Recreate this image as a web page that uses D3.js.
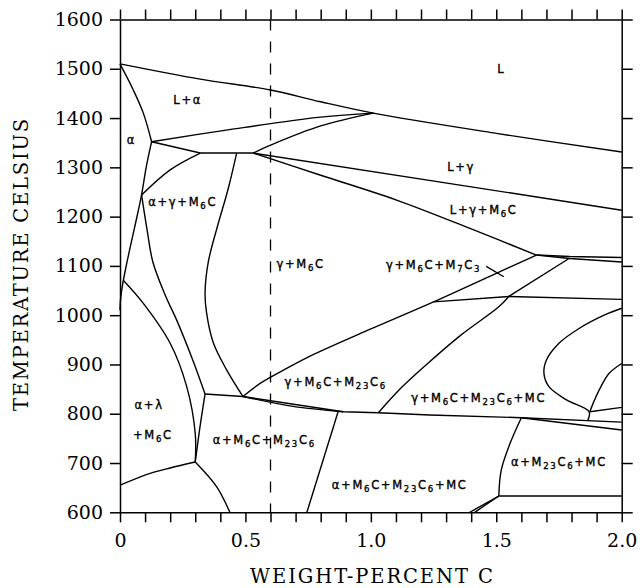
<!DOCTYPE html>
<html>
<head>
<meta charset="utf-8">
<script src="https://cdn.jsdelivr.net/npm/d3@7"></script>
<style>
body { margin: 0; background: #fff; }
svg { display: block; }
.lbl { font-family: "DejaVu Sans", sans-serif; font-size: 11.5px; letter-spacing: 1.7px; stroke: #000; stroke-width: 0.35px; }
.axis text { font-family: "DejaVu Serif", serif; font-size: 19px; fill: #000; }
.axis line, .axis path { stroke: #000; stroke-width: 1.5; }
.title { font-family: "DejaVu Serif", serif; font-size: 19.5px; }
</style>
</head>
<body>
<svg id="chart" width="640" height="588"></svg>
<script>
// phase boundaries: [weight-percent C, temperature C]
var liquidus = [[0,1510],[0.32,1479],[0.6,1457],[0.8,1433],[1.01,1410],[1.5,1369],[2.0,1331]];
var alphaSolidus = [[0,1510],[0.053,1457],[0.093,1410],[0.126,1352]];
var peritecticUpper = [[0.126,1352],[0.43,1376],[0.8,1402],[1.01,1410]];
var peritecticLower = [[0.126,1352],[0.32,1329],[0.531,1329]];
var lGammaUpper = [[0.531,1329],[0.6,1345],[0.8,1384],[1.01,1410]];
var lGammaLower = [[0.531,1329],[2.0,1213]];
var lGammaM6C = [[0.531,1329],[0.8,1284],[1.1,1234],[1.41,1173],[1.66,1122]];
var m7c3TopA = [[1.66,1122],[1.793,1119],[2.0,1117]];
var m7c3TopB = [[1.66,1122],[1.793,1115],[2.0,1108]];
var gammaM6CLower = [[0.49,835],[0.56,862],[0.65,888],[0.75,915],[1.0,972],[1.25,1027],[1.5,1085],[1.66,1122]];
var line1030 = [[1.25,1027],[1.55,1038],[2.0,1032]];
var mcBoundary = [[1.03,802],[1.12,852],[1.22,899],[1.36,960],[1.51,1017],[1.55,1038]];
var m7c3Right = [[1.55,1038],[1.79,1115]];
var mainLower = [[0.339,840],[0.49,835],[0.89,804],[1.03,802],[1.235,797.5],[1.6,792],[2.0,783]];
var mainLowerTwin = [[0.49,835],[0.69,815],[0.89,804]];
var mainLowerRight = [[1.6,792],[2.0,767]];
var loopOuter = [[2.0,1014],[1.93,1000],[1.83,973],[1.75,943],[1.70,909],[1.69,882],[1.71,855],[1.78,828],[1.87,804],[1.865,787]];
var loopInner = [[2.0,902],[1.95,882],[1.91,848],[1.886,821],[1.873,804]];
var loopRight = [[1.873,804],[2.0,813]];
var alphaBoundary = [[0.126,1352],[0.104,1299],[0.086,1244],[0.056,1173],[0.028,1108],[0.01,1061],[0.002,1031],[0,1010]];
var agmUpper = [[0.32,1329],[0.2,1295],[0.086,1244]];
var agmRight = [[0.086,1244],[0.108,1173],[0.131,1108],[0.18,1041],[0.226,990],[0.29,909],[0.339,840]];
var gammaM6CLeft = [[0.465,1329],[0.43,1254],[0.39,1183],[0.352,1108],[0.339,1045],[0.345,1005],[0.372,944],[0.425,889],[0.49,835]];
var lambdaUpper = [[0.013,1071],[0.093,1024],[0.2,943],[0.266,855],[0.3,760],[0.3,702]];
var lambdaRight = [[0.339,840],[0.319,774],[0.3,702]];
var lambdaLower = [[0,655],[0.12,679],[0.2,690],[0.3,702]];
var lambdaDown = [[0.3,702],[0.385,652],[0.438,600]];
var m23Boundary = [[0.87,805],[0.745,600]];
var mcAlphaLeft = [[1.6,792],[1.555,740],[1.52,686],[1.51,633]];
var line633 = [[1.51,633],[2.0,633]];
var wedgeA = [[1.51,633],[1.394,600]];
var wedgeB = [[1.51,633],[1.414,600]];
var leader = [[1.46,1099],[1.53,1078]];

var smoothLines = [liquidus, alphaSolidus, peritecticUpper, lGammaUpper, lGammaM6C, gammaM6CLower,
  mcBoundary, loopOuter, loopInner, alphaBoundary, agmUpper, agmRight, gammaM6CLeft,
  lambdaUpper, lambdaRight, lambdaLower, lambdaDown, mcAlphaLeft, mainLowerTwin];
var straightLines = [peritecticLower, lGammaLower, m7c3TopA, m7c3TopB, line1030, m7c3Right, mainLower,
  mainLowerRight, loopRight, m23Boundary, line633, wedgeA, wedgeB, leader];

var labelText = ["L", "L+\u03b1", "\u03b1", "L+\u03b3", "L+\u03b3+M6C", "\u03b1+\u03b3+M6C", "\u03b3+M6C",
  "\u03b3+M6C+M7C3", "\u03b3+M6C+M23C6", "\u03b3+M6C+M23C6+MC", "\u03b1+\u03bb", "+M6C",
  "\u03b1+M6C+M23C6", "\u03b1+M6C+M23C6+MC", "\u03b1+M23C6+MC"];
var labelC = [1.52, 0.27, 0.045, 1.36, 1.45, 0.25, 0.72, 1.25, 0.86, 1.43, 0.116, 0.131, 0.575, 1.115, 1.75];
var labelT = [1500, 1437, 1355, 1300, 1213, 1230, 1104, 1102, 864, 832, 818, 757, 746, 655, 702];

var yTicks = [600,700,800,900,1000,1100,1200,1300,1400,1500,1600];
var xTicks = [0,0.1,0.2,0.3,0.4,0.5,0.6,0.7,0.8,0.9,1.0,1.1,1.2,1.3,1.4,1.5,1.6,1.7,1.8,1.9,2.0];
var xTickLabels = {"0":"0", "0.5":"0.5", "1":"1.0", "1.5":"1.5", "2":"2.0"};
var dashedC = 0.6;

var svg = d3.select("#chart");
var x = d3.scaleLinear().domain([0, 2]).range([120, 621.7]);
var y = d3.scaleLinear().domain([600, 1600]).range([512.3, 19.5]);

// axes
svg.append("g").attr("class", "axis").attr("transform", "translate(120,0)")
  .call(d3.axisLeft(y).tickValues(yTicks).tickSize(10).tickSizeOuter(0).tickPadding(7).tickFormat(d3.format("d")));
svg.append("g").attr("class", "axis").attr("transform", "translate(621.7,0)")
  .call(d3.axisRight(y).tickValues(yTicks).tickSize(11).tickSizeOuter(0).tickFormat(""));
svg.append("g").attr("class", "axis").attr("transform", "translate(0,19.5)")
  .call(d3.axisTop(x).tickValues(xTicks).tickSize(10).tickSizeOuter(0).tickFormat(""));
var bottom = svg.append("g").attr("class", "axis").attr("transform", "translate(0,512.3)")
  .call(d3.axisBottom(x).tickValues(xTicks).tickSize(10).tickSizeOuter(0)
    .tickFormat(function(d) { return xTickLabels[String(+d.toFixed(1))] || ""; }));
bottom.selectAll("text").attr("y", 35).attr("dy", 0);

// dashed line at 0.6
svg.append("line")
  .attr("x1", x(dashedC)).attr("x2", x(dashedC))
  .attr("y1", y(1600)).attr("y2", y(600))
  .attr("stroke", "#000").attr("stroke-width", 1.3).attr("stroke-dasharray", "11,11");

var smooth = d3.line()
  .x(function(d) { return x(d[0]); })
  .y(function(d) { return y(d[1]); })
  .curve(d3.curveCatmullRom.alpha(0.5));
var straight = d3.line()
  .x(function(d) { return x(d[0]); })
  .y(function(d) { return y(d[1]); });

var g = svg.append("g")
  .attr("fill", "none")
  .attr("stroke", "#000")
  .attr("stroke-width", 1.4)
  .attr("stroke-linejoin", "round");
g.selectAll("path.s").data(smoothLines).enter().append("path").attr("class", "s").attr("d", smooth);
g.selectAll("path.l").data(straightLines).enter().append("path").attr("class", "l").attr("d", straight);

// region labels, digits are subscripts
labelText.forEach(function(s, i) {
  var t = svg.append("text").attr("class", "lbl")
    .attr("x", x(labelC[i])).attr("y", y(labelT[i]))
    .attr("dy", "0.35em").attr("text-anchor", "middle");
  var parts = s.split(/(\d+)/);
  var shifted = false;
  parts.forEach(function(p) {
    if (p === "") return;
    var isSub = /^\d+$/.test(p);
    var span = t.append("tspan").text(p);
    if (isSub) {
      span.attr("font-size", "8.5px").attr("dy", shifted ? 0 : 3);
      shifted = true;
    } else if (shifted) {
      span.attr("dy", -3);
      shifted = false;
    }
  });
});

svg.append("text").attr("class", "title")
  .attr("x", 371.5).attr("y", 583)
  .attr("text-anchor", "middle")
  .attr("textLength", 243).attr("lengthAdjust", "spacing")
  .text("WEIGHT-PERCENT C");

svg.append("text").attr("class", "title")
  .attr("transform", "translate(27.5,265) rotate(-90)")
  .attr("text-anchor", "middle")
  .attr("textLength", 292).attr("lengthAdjust", "spacing")
  .text("TEMPERATURE CELSIUS");
</script>
</body>
</html>
